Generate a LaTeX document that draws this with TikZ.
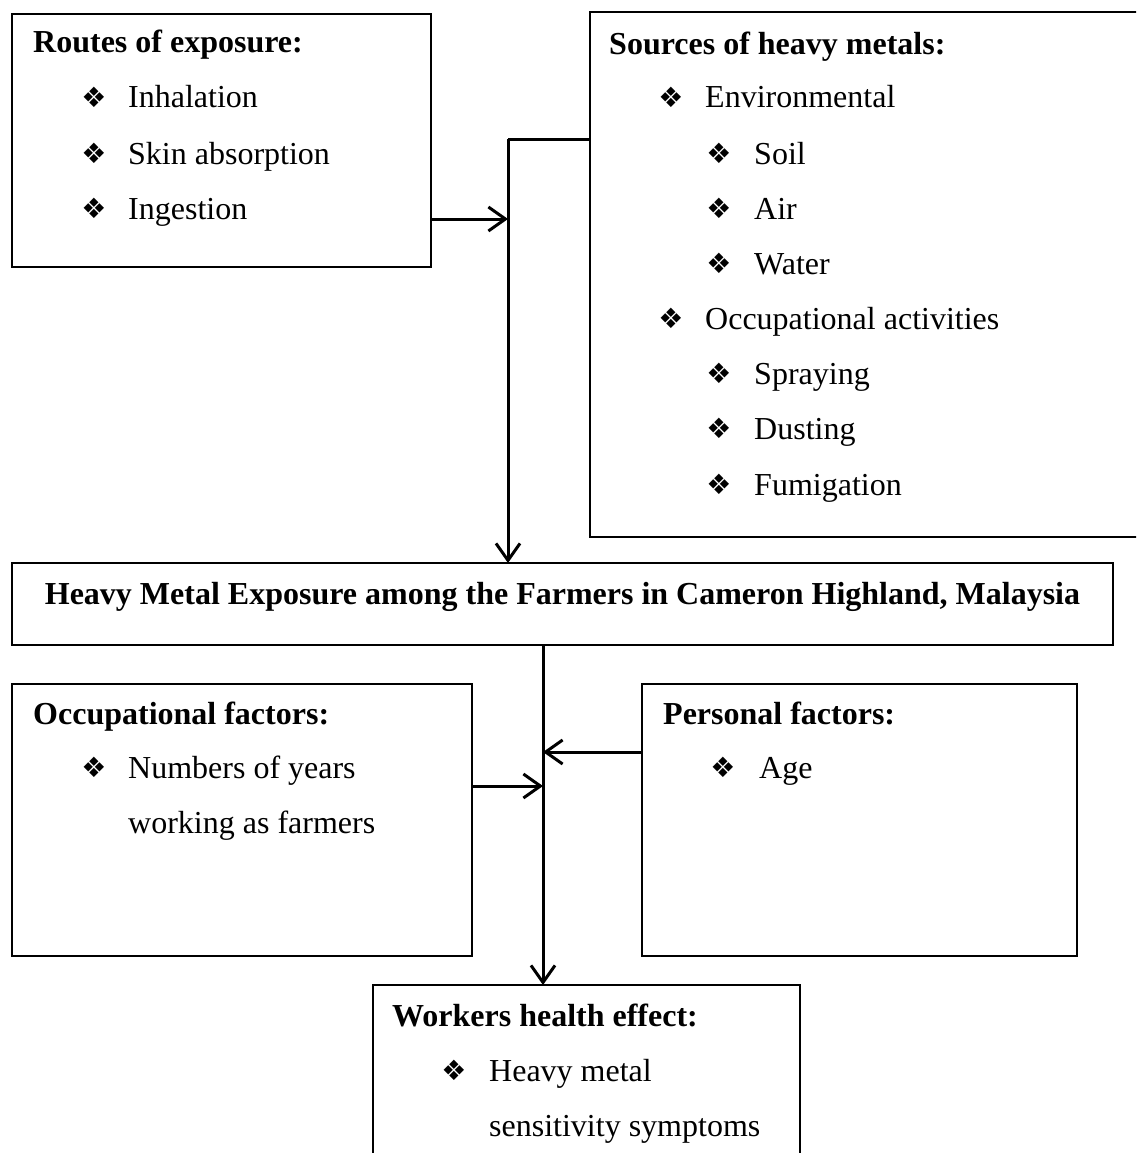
\documentclass[tikz,border=0pt]{standalone}
\usepackage{fontspec}
\setmainfont{Liberation Serif}
\newfontfamily\symfont{DejaVu Sans}
\usetikzlibrary{arrows.meta}
\begin{document}
\begin{tikzpicture}[x=1pt,y=-1pt,
  box/.style={draw=black,line width=1.8pt,rectangle,inner sep=0pt,outer sep=0pt,anchor=north west},
  txt/.style={anchor=base west,inner sep=0pt,font=\fontsize{32}{38}\selectfont},
  hdr/.style={txt,font=\fontsize{32}{38}\selectfont\bfseries},
  bul/.style={anchor=center,inner sep=0pt,font=\symfont\fontsize{28}{30}\selectfont},
  conn/.style={draw=black,line width=3pt},
  arr/.style={conn,-{Straight Barb[length=17pt,width=24pt,line width=3pt]}}]
\useasboundingbox (0,0) rectangle (1136,1153);
\begin{scope}
\clip (0,0) rectangle (1136,1153);
% boxes
\node[box,minimum width=419pt,minimum height=253pt] (routes) at (12,14) {};
\node[box,minimum width=560pt,minimum height=525pt] (sources) at (590,12) {};
\node[box,minimum width=1101pt,minimum height=82pt] (heavy) at (12,563) {};
\node[box,minimum width=460pt,minimum height=272pt] (occ) at (12,684) {};
\node[box,minimum width=435pt,minimum height=272pt] (pers) at (642,684) {};
\node[box,minimum width=427pt,minimum height=190pt] (work) at (373,985) {};
\end{scope}
% routes
\node[hdr] (routesT) at (33,53) {Routes of exposure:};
\node[bul] (rb1) at (94,97) {❖};
\node[txt] (r1) at (128,108) {Inhalation};
\node[bul] (rb2) at (94,153) {❖};
\node[txt] (r2) at (128,164) {Skin absorption};
\node[bul] (rb3) at (94,208) {❖};
\node[txt] (r3) at (128,219) {Ingestion};
% sources
\node[hdr] (sourcesT) at (609,55) {Sources of heavy metals:};
\node[bul] (sb1) at (671,97) {❖};
\node[txt] (s1) at (705,108) {Environmental};
\node[bul] (sb2) at (719,153) {❖};
\node[txt] (s2) at (754,164) {Soil};
\node[bul] (sb3) at (719,208) {❖};
\node[txt] (s3) at (754,219) {Air};
\node[bul] (sb4) at (719,263) {❖};
\node[txt] (s4) at (754,274) {Water};
\node[bul] (sb5) at (671,318) {❖};
\node[txt] (s5) at (705,329) {Occupational activities};
\node[bul] (sb6) at (719,373) {❖};
\node[txt] (s6) at (754,384) {Spraying};
\node[bul] (sb7) at (719,428) {❖};
\node[txt] (s7) at (754,439) {Dusting};
\node[bul] (sb8) at (719,484) {❖};
\node[txt] (s8) at (754,495) {Fumigation};
% heavy
\node[hdr,anchor=base] (heavyT) at (562.5,604) {Heavy Metal Exposure among the Farmers in Cameron Highland, Malaysia};
% occupational
\node[hdr] (occT) at (33,724) {Occupational factors:};
\node[bul] (ob1) at (94,767) {❖};
\node[txt] (o1) at (128,778) {Numbers of years};
\node[txt] (o2) at (128,833) {working as farmers};
% personal
\node[hdr] (persT) at (663,724) {Personal factors:};
\node[bul] (pb1) at (723,767) {❖};
\node[txt] (p1) at (759,778) {Age};
% workers
\node[hdr] (workT) at (392,1026) {Workers health effect:};
\node[bul] (wb1) at (454,1070) {❖};
\node[txt] (w1) at (489,1081) {Heavy metal};
\node[txt] (w2) at (489,1136) {sensitivity symptoms};
% connectors
\coordinate (j1) at (508,139);
\coordinate (ingrow) at (0,219);
\draw[conn] (sources.west |- j1) -- (j1);
\draw[arr] (j1) -- (j1 |- heavy.north);
\draw[arr] (routes.east |- ingrow) -- (ingrow -| j1);
\coordinate (j2) at (543,0);
\coordinate (persrow) at (0,752);
\coordinate (occrow) at (0,786);
\draw[arr] (heavy.south -| j2) -- (j2 |- work.north);
\draw[arr] (pers.west |- persrow) -- (persrow -| j2);
\draw[arr] (occ.east |- occrow) -- (occrow -| j2);
\end{tikzpicture}
\end{document}
